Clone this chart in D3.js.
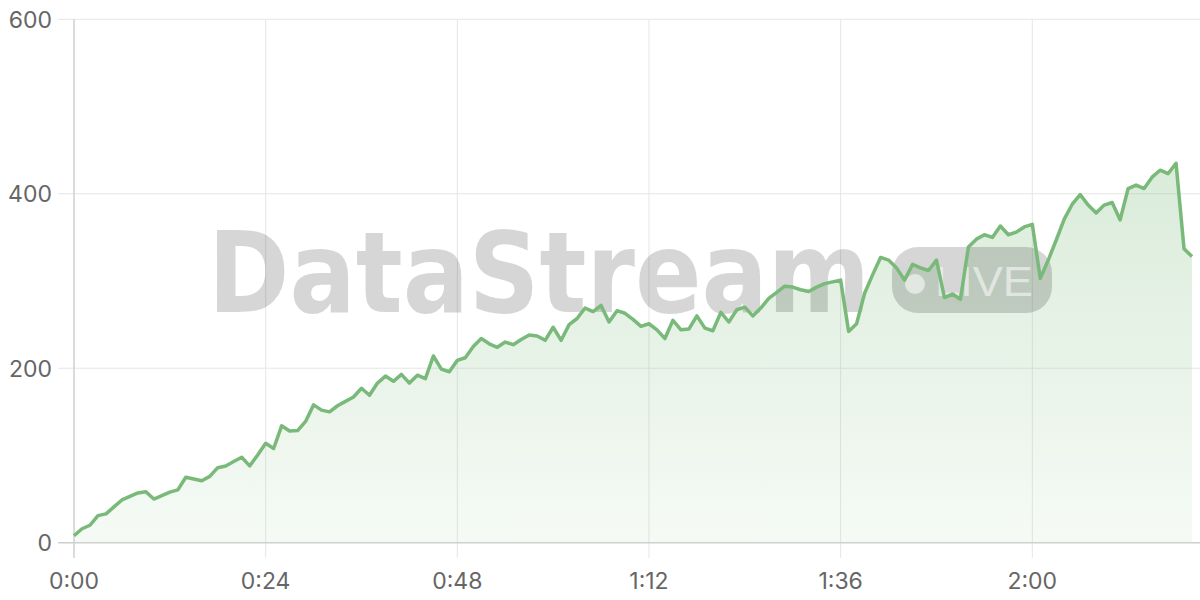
<!DOCTYPE html>
<html>
<head>
<meta charset="utf-8">
<script src="https://cdn.jsdelivr.net/npm/d3@7"></script>
<style>
html,body{margin:0;padding:0;background:#fff;}
svg{display:block;}
</style>
</head>
<body>
<svg id="chart" width="1200" height="600"></svg>
<script>
// values per minute, starting at 0:00
const values = [8,16,20,31,33,41,49,53,57,58.5,50,54,58,60.5,75,73,71,76,86,88,93,98,88,100.5,114,
108,134,128,128.5,139,158,152,150,157,162,167,177,169,183,191,185,193,183,192,188,214,199,196,209,212,
225,234,228,224,230,227,233,238,237,232,247,232,250,257,269,265,272,253,266,263,256,248,251,244,234,
255,244,245,260,246,243,264,253,267,270,260,269,280,287,294,293,290,288,293,297,299,301,242,
251,286,307,327,324,315,301,319,315,312,324,281,285,279,339,348,353,350,363,353,356,362,365,
303,324,347,371,388,399,387,378,387,390,370,406,410,406,419,427,423,435,337,328];
const xTicks = [0,24,48,72,96,120];
const xTickLabels = ["0:00","0:24","0:48","1:12","1:36","2:00"];
const yTicks = [0,200,400,600];
const yTickLabels = ["0","200","400","600"];
const watermarkText = "DataStream";
const badgeText = "LIVE";

const svg = d3.select("#chart");
const x = d3.scaleLinear().domain([0,141]).range([74,1200]);
const y = d3.scaleLinear().domain([0,600]).range([542.7,19.3]);
const lineColor = "#79b979";
const font = "Inter, 'Noto Sans', sans-serif";

const defs = svg.append("defs");
const grad = defs.append("linearGradient").attr("id","fillGrad")
  .attr("gradientUnits","userSpaceOnUse")
  .attr("x1",0).attr("y1",y(440)).attr("x2",0).attr("y2",y(0));
grad.append("stop").attr("offset","0%").attr("stop-color",lineColor).attr("stop-opacity",0.28);
grad.append("stop").attr("offset","100%").attr("stop-color",lineColor).attr("stop-opacity",0.07);

// grid
const grid = svg.append("g");
grid.selectAll("line.h").data(yTicks.filter(d=>d>0)).join("line")
  .attr("x1",58).attr("x2",1200)
  .attr("y1",d=>y(d)).attr("y2",d=>y(d))
  .attr("stroke","#e6e6e6").attr("stroke-width",1);
grid.selectAll("line.v").data(xTicks.filter(d=>d>0)).join("line")
  .attr("x1",d=>x(d)).attr("x2",d=>x(d))
  .attr("y1",y(600)).attr("y2",558)
  .attr("stroke","#e6e6e6").attr("stroke-width",1);

// area
const area = d3.area().x((d,i)=>x(i)).y0(y(0)).y1(d=>y(d));
svg.append("path").datum(values).attr("d",area).attr("fill","url(#fillGrad)");

// axes lines
svg.append("line").attr("x1",58).attr("x2",1200).attr("y1",y(0)).attr("y2",y(0))
  .attr("stroke","#cfcfcf").attr("stroke-width",1.5);
svg.append("line").attr("x1",x(0)).attr("x2",x(0)).attr("y1",y(600)).attr("y2",558)
  .attr("stroke","#cfcfcf").attr("stroke-width",1.5);

// watermark
const wm = svg.append("g");
wm.append("text").attr("x",208).attr("y",312)
  .attr("font-family","'DejaVu Sans Condensed', 'DejaVu Sans', sans-serif").attr("font-weight","bold")
  .attr("font-stretch","condensed")
  .attr("font-size",113).attr("textLength",662).attr("lengthAdjust","spacingAndGlyphs")
  .attr("fill","rgba(0,0,0,0.16)").text(watermarkText);
wm.append("rect").attr("x",892).attr("y",247).attr("width",160).attr("height",66)
  .attr("rx",26).attr("fill","rgba(0,0,0,0.16)");
wm.append("circle").attr("cx",915).attr("cy",284).attr("r",10).attr("fill","rgba(255,255,255,0.55)");
wm.append("text").attr("x",935).attr("y",296)
  .attr("font-family","'Liberation Sans', Arial, sans-serif")
  .attr("font-size",42).attr("textLength",98).attr("lengthAdjust","spacingAndGlyphs")
  .attr("fill","rgba(255,255,255,0.55)").text(badgeText);

// line
const line = d3.line().x((d,i)=>x(i)).y(d=>y(d));
svg.append("path").datum(values).attr("d",line).attr("fill","none")
  .attr("stroke",lineColor).attr("stroke-width",3.5).attr("stroke-linejoin","round");

// tick labels
svg.append("g").selectAll("text").data(yTicks).join("text")
  .attr("x",52).attr("y",d=>y(d)).attr("dy","0.36em")
  .attr("text-anchor","end").attr("font-family",font).attr("font-size",23)
  .attr("fill","#666").text((d,i)=>yTickLabels[i]);
svg.append("g").selectAll("text").data(xTicks).join("text")
  .attr("x",d=>x(d)).attr("y",589)
  .attr("text-anchor","middle").attr("font-family",font).attr("font-size",23)
  .attr("fill","#666").text((d,i)=>xTickLabels[i]);
</script>
</body>
</html>
